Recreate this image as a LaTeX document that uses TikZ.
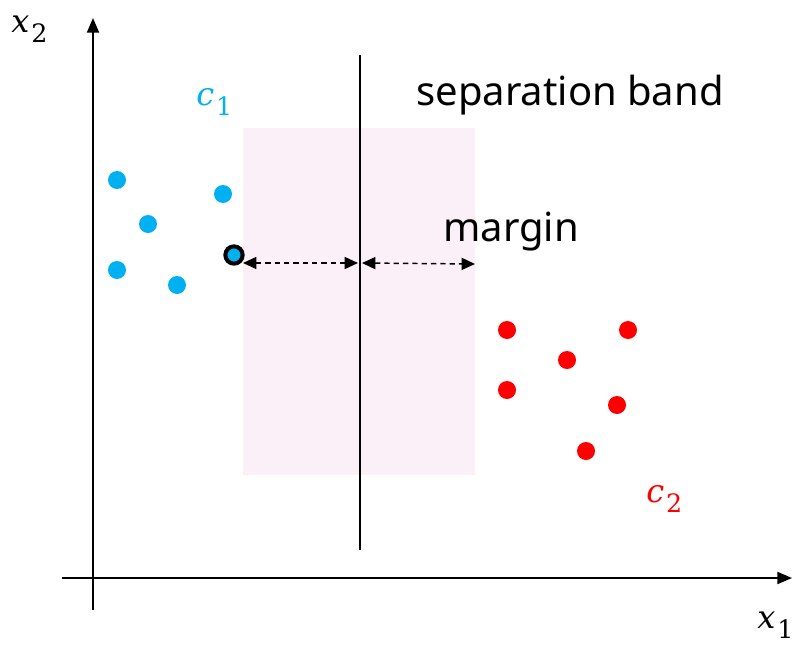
\documentclass[tikz,border=0pt]{standalone}
\usepackage{fontspec}
\setmainfont{Noto Sans}
\newfontfamily\labfont{DejaVu Serif}
\usetikzlibrary{arrows.meta}
\definecolor{cblue}{HTML}{00B0F0}
\definecolor{cred}{HTML}{FF0000}
\definecolor{bandpink}{HTML}{FBF0F8}
\newcommand{\varlab}[2]{{\labfont\fontsize{24}{28}\selectfont\itshape #1\kern1.5pt\raisebox{-8pt}{\fontsize{19}{20}\selectfont\upshape #2}}}
\tikzset{
  axis/.style={line width=1.5pt,-{Triangle[length=11pt,width=9pt]}},
  bpt/.style={circle,fill=cblue,inner sep=0pt,minimum size=13.5pt},
  rpt/.style={circle,fill=cred,inner sep=0pt,minimum size=13.5pt},
  marg/.style={line width=1.1pt,dash pattern=on 4pt off 3pt,{Triangle[length=10pt,width=9pt]}-{Triangle[length=10pt,width=9pt]}},
  lbl/.style={inner sep=0pt,font=\fontsize{30}{36}\selectfont},
  mlbl/.style={inner sep=0pt,anchor=base west},
}
\begin{document}
\begin{tikzpicture}[x=0.75pt,y=-0.75pt]
\useasboundingbox (0,0) rectangle (799,646);
\fill[bandpink] (243,128) rectangle (475,475);
\coordinate (yb) at (93,610);
\coordinate (yt) at (93,18);
\coordinate (xl) at (62,578);
\coordinate (xr) at (792,578);
\draw[axis] (yb) -- (yt);
\draw[axis] (xl) -- (xr);
\coordinate (st) at (360,55);
\coordinate (sb) at (360,550);
\draw[line width=1.5pt] (st) -- (sb);
\node[bpt] (b1) at (117,180) {};
\node[bpt] (b2) at (148,224) {};
\node[bpt] (b3) at (223,194) {};
\node[bpt] (b4) at (117,270) {};
\node[bpt] (b5) at (177,285) {};
\node[circle,fill=cblue,draw=black,line width=3pt,inner sep=0pt,minimum size=13pt] (sv) at (234,255) {};
\node[rpt] (r1) at (507,330) {};
\node[rpt] (r2) at (628,330) {};
\node[rpt] (r3) at (567,360) {};
\node[rpt] (r4) at (507,390) {};
\node[rpt] (r5) at (617,405) {};
\node[rpt] (r6) at (586,451) {};
\coordinate (m0) at (243,263);
\coordinate (m1) at (358,263);
\coordinate (m2) at (362,263);
\coordinate (m3) at (475,264);
\draw[marg] (m0) -- (m1);
\draw[marg] (m2) -- (m3);
\node[lbl] (band) at (570,95) {separation band};
\node[lbl] (margin) at (511,232) {margin};
\node[mlbl,text=cblue] (c1) at (196,105) {\varlab{c}{1}};
\node[mlbl,text=cred] (c2) at (646,502) {\varlab{c}{2}};
\node[mlbl] (x2) at (11,32) {\varlab{x}{2}};
\node[mlbl] (x1) at (757,628) {\varlab{x}{1}};
\end{tikzpicture}
\end{document}
